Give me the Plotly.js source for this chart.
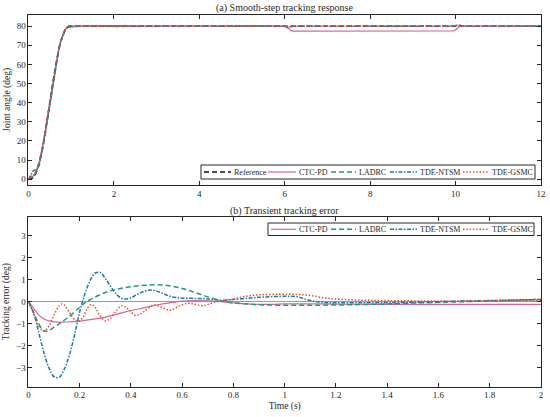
<!DOCTYPE html>
<html><head><meta charset="utf-8">
<script src="https://cdn.plot.ly/plotly-3.0.1.min.js"></script>
<style>html,body{margin:0;padding:0;background:#fff}#plot{width:550px;height:417px}</style>
</head><body><div id="plot"></div>
<script>
// ---- Panel (a): joint angle (deg) vs time (s)
const tTop = [0,0.05,0.1,0.15,0.2,0.25,0.3,0.35,0.4,0.45,0.5,0.55,0.6,0.65,0.7,0.75,0.8,0.85,0.9,0.95,1.0,1.1,1.2,6.0,6.05,6.1,6.15,6.2,9.9,9.95,10.0,10.05,10.1,10.15,10.2,12];
const refTop  = [0,0.09,0.68,2.13,4.63,8.28,13.05,18.81,25.40,32.55,40,47.45,54.60,61.19,66.95,71.72,75.37,77.87,79.32,79.91,80,80,80,80,80,80,80,80,80,80,80,80,80,80,80,80];
const pdTop   = [0,0.79,1.59,3.05,5.51,9.08,13.75,19.36,25.80,32.83,40.15,47.50,54.57,61.14,66.91,71.72,75.42,77.97,79.44,80.03,80.1,80.1,80.1,80.1,79.7,78.6,77.7,77.4,77.4,77.5,78.2,79.3,80.0,80.1,80.1,80.1];
const ladrcTop= [0,1.29,1.83,2.88,4.93,8.08,12.60,18.21,24.72,31.81,39.23,46.73,54.0,60.77,66.73,71.67,75.42,77.97,79.45,80.06,80.15,80.15,80.15,80.1,79.5,79.7,80.0,80.1,80.1,80.1,80.3,80.6,80.3,80.1,80.0,80.0];
const ntsmTop = [0,1.99,4.08,4.88,5.08,7.13,12.0,18.56,25.22,32.09,39.52,47.19,54.44,61.04,66.83,71.67,75.27,77.72,79.12,79.68,79.75,79.95,80.05,80.0,79.2,79.5,79.9,80.0,80.0,80.0,80.2,80.7,80.4,80.1,80.0,80.0];
const gsmcTop = [0,1.34,1.28,2.43,5.48,8.43,13.92,19.11,25.9,33.0,40.18,47.84,54.72,61.31,67.05,71.69,75.25,77.62,79.01,79.58,79.66,79.72,79.88,79.95,79.7,79.9,80,80,80,80,80.1,80.3,80.1,80,80,80];

// ---- Panel (b): tracking error (deg) vs time (s)
const tPD = [0,0.02,0.04,0.06,0.08,0.1,0.15,0.2,0.25,0.3,0.35,0.4,0.45,0.5,0.55,0.6,0.65,0.7,0.75,0.8,0.85,0.9,0.95,1.0,1.1,1.2,1.4,1.6,1.8,2.0];
const ePD = [0,-0.3,-0.6,-0.78,-0.87,-0.91,-0.92,-0.88,-0.8,-0.7,-0.55,-0.4,-0.28,-0.15,-0.05,0.03,0.05,0.04,0,-0.05,-0.1,-0.12,-0.12,-0.1,-0.1,-0.11,-0.12,-0.12,-0.12,-0.12];
const tLA = [0,0.02,0.04,0.06,0.08,0.1,0.12,0.15,0.2,0.22,0.25,0.3,0.35,0.4,0.45,0.5,0.55,0.6,0.65,0.7,0.75,0.8,0.85,0.9,1.0,1.1,1.2,1.3,1.4,1.5,1.6,1.7,1.8,1.9,2.0];
const eLA = [0,-0.5,-1.0,-1.33,-1.3,-1.15,-1.0,-0.75,-0.25,-0.05,0.15,0.42,0.58,0.68,0.74,0.77,0.72,0.6,0.42,0.22,0.05,-0.05,-0.1,-0.14,-0.16,-0.16,-0.15,-0.13,-0.1,-0.06,-0.03,0.0,0.04,0.07,0.1];
const tNT = [0,0.02,0.04,0.06,0.08,0.1,0.12,0.14,0.16,0.18,0.2,0.22,0.24,0.26,0.28,0.3,0.32,0.34,0.36,0.38,0.4,0.42,0.44,0.46,0.48,0.5,0.52,0.54,0.56,0.58,0.6,0.65,0.7,0.75,0.8,0.85,0.9,0.95,1.0,1.05,1.1,1.15,1.2,1.3,1.4,1.5,1.6,1.7,1.8,1.9,2.0];
const eNT = [0,-0.5,-1.4,-2.3,-3.0,-3.4,-3.42,-3.05,-2.4,-1.5,-0.45,0.35,0.95,1.3,1.32,1.05,0.7,0.38,0.17,0.12,0.18,0.3,0.42,0.5,0.53,0.48,0.4,0.3,0.22,0.18,0.16,0.15,0.12,0.06,0.1,0.15,0.2,0.23,0.25,0.22,0.05,-0.03,-0.05,-0.05,-0.05,-0.03,0.0,0.03,0.05,0.08,0.1];
const tGS = [0,0.02,0.04,0.06,0.08,0.1,0.12,0.13,0.14,0.16,0.19,0.21,0.23,0.245,0.26,0.28,0.3,0.32,0.34,0.365,0.39,0.42,0.45,0.49,0.52,0.55,0.58,0.62,0.65,0.68,0.72,0.76,0.8,0.85,0.9,0.95,1.0,1.05,1.1,1.15,1.2,1.3,1.4,1.6,1.8,2.0];
const eGS = [0,-0.55,-1.1,-1.33,-1.1,-0.6,-0.18,-0.1,-0.15,-0.5,-0.9,-0.75,-0.3,-0.12,-0.25,-0.65,-0.87,-0.75,-0.45,-0.18,-0.35,-0.63,-0.45,-0.15,-0.25,-0.39,-0.25,-0.07,-0.12,-0.18,-0.05,0.05,0.12,0.25,0.31,0.33,0.34,0.33,0.28,0.18,0.12,0.07,0.05,0.03,0.04,0.05];

const names = ['Reference','CTC-PD','LADRC','TDE-NTSM','TDE-GSMC'];
const FONT = 'Liberation Serif, Times New Roman, serif';
const INK = '#262626';

// line styles per series (Reference, CTC-PD, LADRC, TDE-NTSM, TDE-GSMC)
const styles = [
  {color:'#111111', width:1.6, dash:'5px,3px'},
  {color:'#D6639B', width:1.2, dash:'solid'},
  {color:'#1A9E78', width:1.5, dash:'5px,3px'},
  {color:'#1C78A6', width:1.5, dash:'4px,1.5px,1.5px,1.5px'},
  {color:'#EE4B2B', width:1.5, dash:'1.5px,1.8px'}
];

const topY = [refTop, pdTop, ladrcTop, ntsmTop, gsmcTop];
const botX = [tPD, tLA, tNT, tGS];
const botY = [ePD, eLA, eNT, eGS];

const traces = [];
topY.forEach((y, i) => traces.push({x:tTop, y:y, name:names[i], mode:'lines', line:Object.assign({}, styles[i]), xaxis:'x', yaxis:'y', showlegend:false}));
botY.forEach((y, j) => traces.push({x:botX[j], y:y, name:names[j+1], mode:'lines', line:Object.assign({shape:'spline'}, styles[j+1]), xaxis:'x2', yaxis:'y2', showlegend:false}));

// ---- legends drawn as boxed rows (pixel layout of the reference)
const W = 550, H = 417;
const PX = p => p / W, PY = p => 1 - p / H;
const shapes = [], annotations = [];
function legendRow(box, cy, items){
  shapes.push({type:'rect', xref:'paper', yref:'paper', x0:PX(box[0]), x1:PX(box[1]), y0:PY(box[3]), y1:PY(box[2]),
    line:{color:INK, width:1}, fillcolor:'#ffffff', layer:'above'});
  items.forEach(it => {
    const st = styles[it.k];
    shapes.push({type:'line', xref:'paper', yref:'paper', x0:PX(it.s0), x1:PX(it.s1), y0:PY(cy), y1:PY(cy),
      line:{color:st.color, width:st.width, dash:st.dash}, layer:'above'});
    annotations.push({text:names[it.k], xref:'paper', yref:'paper', x:PX(it.tx), y:PY(cy), xanchor:'left', yanchor:'middle',
      showarrow:false, font:{family:FONT, size:8, color:INK}, xshift:-1});
  });
}
legendRow([201,535,165,179], 172, [
  {k:0, s0:204, s1:231, tx:233}, {k:1, s0:268, s1:296, tx:298}, {k:2, s0:331, s1:356, tx:358},
  {k:3, s0:390, s1:417, tx:419}, {k:4, s0:463, s1:489, tx:491}]);
legendRow([268,534,223,235.5], 229.3, [
  {k:1, s0:271, s1:296, tx:298}, {k:2, s0:331, s1:356, tx:358},
  {k:3, s0:390, s1:417, tx:419}, {k:4, s0:463, s1:489, tx:491}]);

annotations.push({text:'(a) Smooth-step tracking response', xref:'paper', yref:'paper', x:PX(284.5), y:PY(8.5), xanchor:'center', yanchor:'middle', showarrow:false, font:{family:FONT,size:10,color:INK}});
annotations.push({text:'(b) Transient tracking error', xref:'paper', yref:'paper', x:PX(284.5), y:PY(210.5), xanchor:'center', yanchor:'middle', showarrow:false, font:{family:FONT,size:10,color:INK}});

const axBase = {showline:true, linecolor:INK, linewidth:1, mirror:'ticks', ticks:'inside', ticklen:4, tickcolor:INK,
  showgrid:false, zeroline:false, tickfont:{family:FONT,size:9,color:INK}};

const layout = {
  width:W, height:H, margin:{l:0,r:0,t:0,b:0}, paper_bgcolor:'#fff', plot_bgcolor:'#fff',
  font:{family:FONT, color:INK}, showlegend:false,
  xaxis: Object.assign({}, axBase, {domain:[0.0518,0.9836], anchor:'y', range:[0,12], tickvals:[0,2,4,6,8,10,12]}),
  yaxis: Object.assign({}, axBase, {domain:[0.5564,0.9647], anchor:'x', range:[-3,86], tickvals:[0,10,20,30,40,50,60,70,80],
    title:{text:'Joint angle (deg)', font:{family:FONT,size:9.5}, standoff:4}}),
  xaxis2: Object.assign({}, axBase, {domain:[0.0518,0.9836], anchor:'y2', range:[0,2], tickvals:[0,0.2,0.4,0.6,0.8,1,1.2,1.4,1.6,1.8,2],
    title:{text:'Time (s)', font:{family:FONT,size:9.5}, standoff:2}}),
  yaxis2: Object.assign({}, axBase, {domain:[0.0727,0.4803], anchor:'x2', range:[-3.85,3.85], tickvals:[-3,-2,-1,0,1,2,3],
    ticktext:['\u22123','\u22122','\u22121','0','1','2','3'],
    zeroline:true, zerolinecolor:'#9a9a9a', zerolinewidth:1.3,
    title:{text:'Tracking error (deg)', font:{family:FONT,size:9.5}, standoff:4}}),
  shapes:shapes,
  annotations:annotations
};

Plotly.newPlot('plot', traces, layout, {displayModeBar:false, staticPlot:true});
</script></body></html>
